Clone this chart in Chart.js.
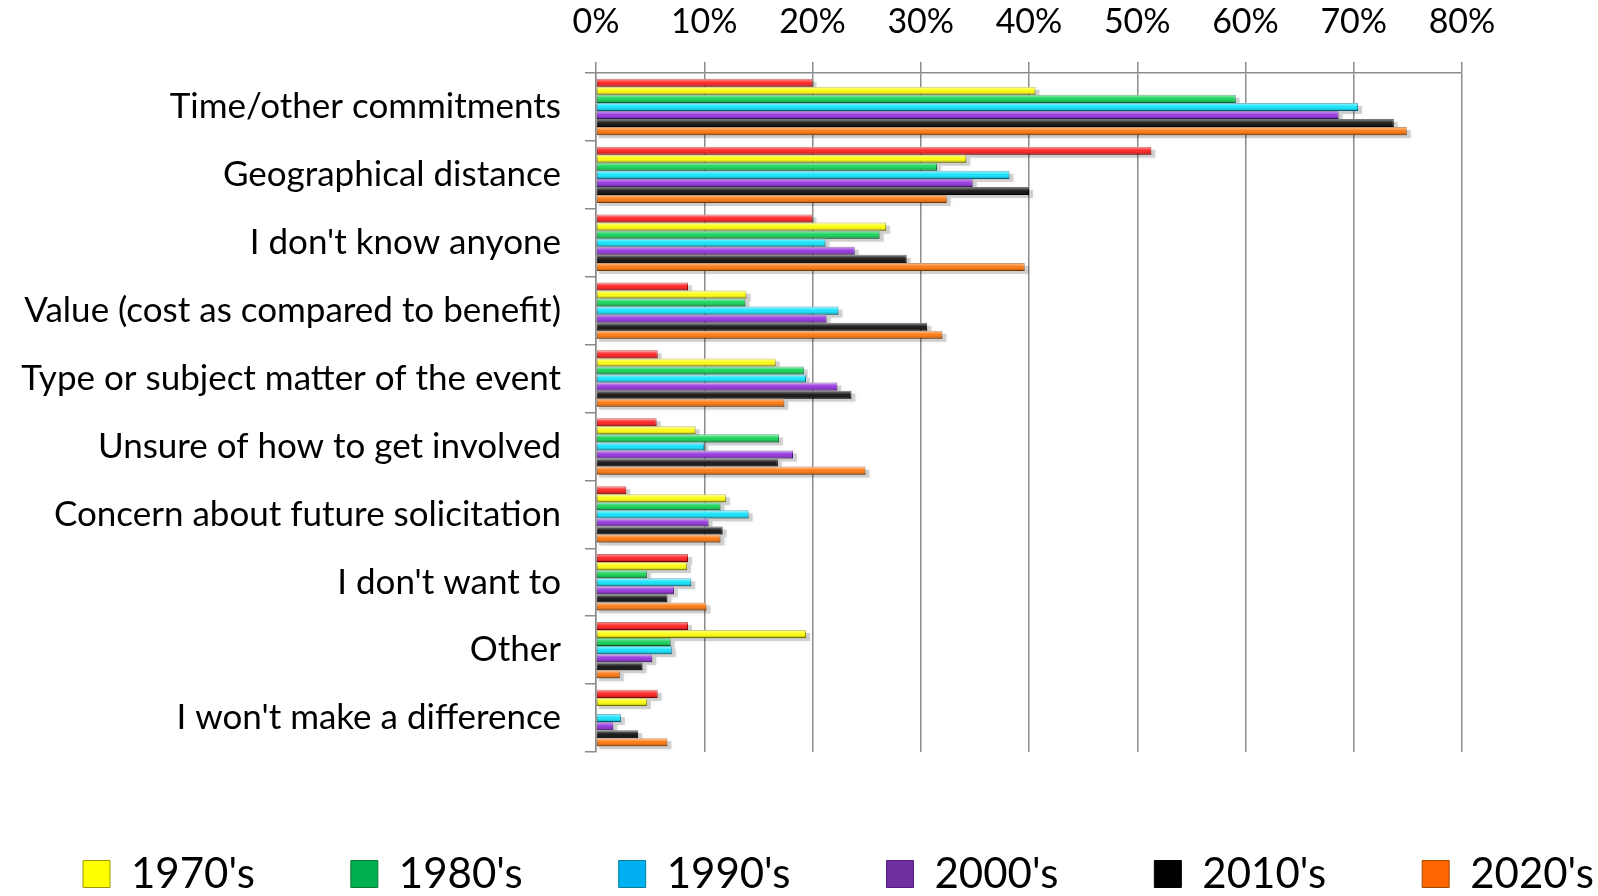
<!DOCTYPE html>
<html lang="en">
<head>
  <meta charset="UTF-8" />
  <title>Reasons for not getting involved</title>
  <script src="https://cdn.jsdelivr.net/npm/chart.js"></script>
  <style>
    body { margin: 0; background: #fff; }
    .wrap { width: 1598px; height: 896px; }
  </style>
</head>
<body>
  <div class="wrap"><canvas id="reasonsChart"></canvas></div>
  <script>
    const categories = [
      'Time/other commitments',
      'Geographical distance',
      "I don't know anyone",
      'Value (cost as compared to benefit)',
      'Type or subject matter of the event',
      'Unsure of how to get involved',
      'Concern about future solicitation',
      "I don't want to",
      'Other',
      "I won't make a difference"
    ];
    const decades = ["1960's", "1970's", "1980's", "1990's", "2000's", "2010's", "2020's"];

    // percentages
    const s1960 = [20.0, 51.3, 20.0, 8.5, 5.7, 5.6, 2.8, 8.5, 8.5, 5.7];
    const s1970 = [40.6, 34.2, 26.8, 13.9, 16.6, 9.2, 12.0, 8.4, 19.4, 4.7];
    const s1980 = [59.1, 31.5, 26.2, 13.8, 19.2, 16.9, 11.5, 4.7, 6.9, 0];
    const s1990 = [70.4, 38.2, 21.2, 22.4, 19.4, 10.0, 14.1, 8.8, 7.0, 2.3];
    const s2000 = [68.6, 34.8, 23.9, 21.3, 22.3, 18.2, 10.4, 7.2, 5.2, 1.6];
    const s2010 = [73.7, 40.0, 28.7, 30.6, 23.6, 16.8, 11.7, 6.6, 4.3, 3.9];
    const s2020 = [74.9, 32.4, 39.6, 32.0, 17.4, 24.9, 11.5, 10.2, 2.2, 6.6];
    const seriesValues = [s1960, s1970, s1980, s1990, s2000, s2010, s2020];

    const fills = ['#ff2b2b', '#ffff1a', '#1fd65f', '#1ee6ff', '#9b3fe0', '#1e1e1e', '#ff7f1a'];
    const edges = ['#a00000', '#9a9a00', '#0a7a35', '#0a7f9a', '#4d1a80', '#000000', '#a04a00'];
    const legendFills = ['#ff0000', '#ffff00', '#00b050', '#00b0f0', '#7030a0', '#000000', '#ff6600'];

    const gridGray = '#8c8c8c';

    // soft shadows under the bars, then a bevel sheen on top of them
    const bevelBars = {
      id: 'bevelBars',
      beforeDatasetsDraw(chart) {
        const ctx = chart.ctx;
        ctx.save();
        ctx.fillStyle = 'rgba(0,0,0,0.16)';
        ctx.shadowColor = 'rgba(0,0,0,0.35)';
        ctx.shadowBlur = 5;
        chart.data.datasets.forEach((ds, i) => {
          chart.getDatasetMeta(i).data.forEach(bar => {
            const w = bar.x - bar.base;
            if (w <= 0) return;
            ctx.fillRect(bar.base + 2, bar.y - bar.height / 2 + 3, w + 2, bar.height);
          });
        });
        ctx.restore();
      },
      afterDatasetsDraw(chart) {
        const ctx = chart.ctx;
        ctx.save();
        chart.data.datasets.forEach((ds, i) => {
          chart.getDatasetMeta(i).data.forEach(bar => {
            const w = bar.x - bar.base;
            if (w <= 0) return;
            const top = bar.y - bar.height / 2;
            const g = ctx.createLinearGradient(0, top, 0, top + bar.height);
            g.addColorStop(0, 'rgba(255,255,255,0.55)');
            g.addColorStop(0.35, 'rgba(255,255,255,0.12)');
            g.addColorStop(0.6, 'rgba(0,0,0,0)');
            g.addColorStop(1, 'rgba(0,0,0,0.3)');
            ctx.fillStyle = g;
            ctx.fillRect(bar.base, top, w, bar.height);
          });
        });
        ctx.restore();
      }
    };

    // keep the six legend entries on one row, wide apart, low under the plot
    const LEGEND_START = 83;
    const legendRow = {
      id: 'legendRow',
      afterInit(chart) {
        const legend = chart.legend;
        const fit = legend.fit;
        const draw = legend.draw;
        legend.fit = function () {
          const mw = this.maxWidth;
          this.maxWidth = mw + 400;
          fit.call(this);
          this.maxWidth = mw;
          this.width = mw;
          this.height = 144;
        };
        legend.draw = function () {
          const saved = [this.left, this.right, this.top, this.bottom];
          const pad = this.options.labels.padding;
          // widen the box so the centred row starts at LEGEND_START and nothing wraps or clips
          this.left = -100;
          this.right = 2 * LEGEND_START - pad + this.lineWidths[0] + 100;
          this.top += 5;
          this.bottom += 5;
          draw.call(this);
          [this.left, this.right, this.top, this.bottom] = saved;
        };
      }
    };

    new Chart(document.getElementById('reasonsChart'), {
      type: 'bar',
      data: {
        labels: categories,
        datasets: seriesValues.map((vals, i) => ({
          label: decades[i],
          data: vals,
          backgroundColor: fills[i],
          borderColor: edges[i],
          borderWidth: 1,
          borderSkipped: false
        }))
      },
      options: {
        indexAxis: 'y',
        responsive: true,
        maintainAspectRatio: false,
        animation: false,
        layout: { padding: { top: 3, left: 10, right: 136, bottom: 0 } },
        datasets: { bar: { categoryPercentage: 0.83, barPercentage: 1.0 } },
        scales: {
          x: {
            position: 'top',
            min: 0,
            max: 80,
            ticks: {
              stepSize: 10,
              padding: 20,
              color: '#000',
              font: { family: 'Lato', size: 34 },
              callback: v => v + '%'
            },
            grid: { color: gridGray, lineWidth: 1.5, tickLength: 11 },
            border: { color: gridGray, width: 1.5 },
            afterFit: s => { s.height = 70; }
          },
          y: {
            ticks: {
              padding: 24,
              color: '#000',
              font: { family: 'Lato', size: 35 }
            },
            grid: { drawOnChartArea: false, color: gridGray, lineWidth: 1.5, tickLength: 11 },
            border: { color: gridGray, width: 1.5 },
            afterFit: s => { s.width = 586; }
          }
        },
        plugins: {
          legend: {
            position: 'bottom',
            labels: {
              boxWidth: 27,
              boxHeight: 27,
              padding: 96,
              color: '#000',
              font: { family: 'Lato', size: 42 },
              filter: item => item.datasetIndex > 0,
              generateLabels: chart =>
                Chart.defaults.plugins.legend.labels.generateLabels(chart).map(item => {
                  item.fillStyle = legendFills[item.datasetIndex];
                  return item;
                })
            }
          },
          tooltip: { enabled: false }
        }
      },
      plugins: [bevelBars, legendRow]
    });
  </script>
</body>
</html>
